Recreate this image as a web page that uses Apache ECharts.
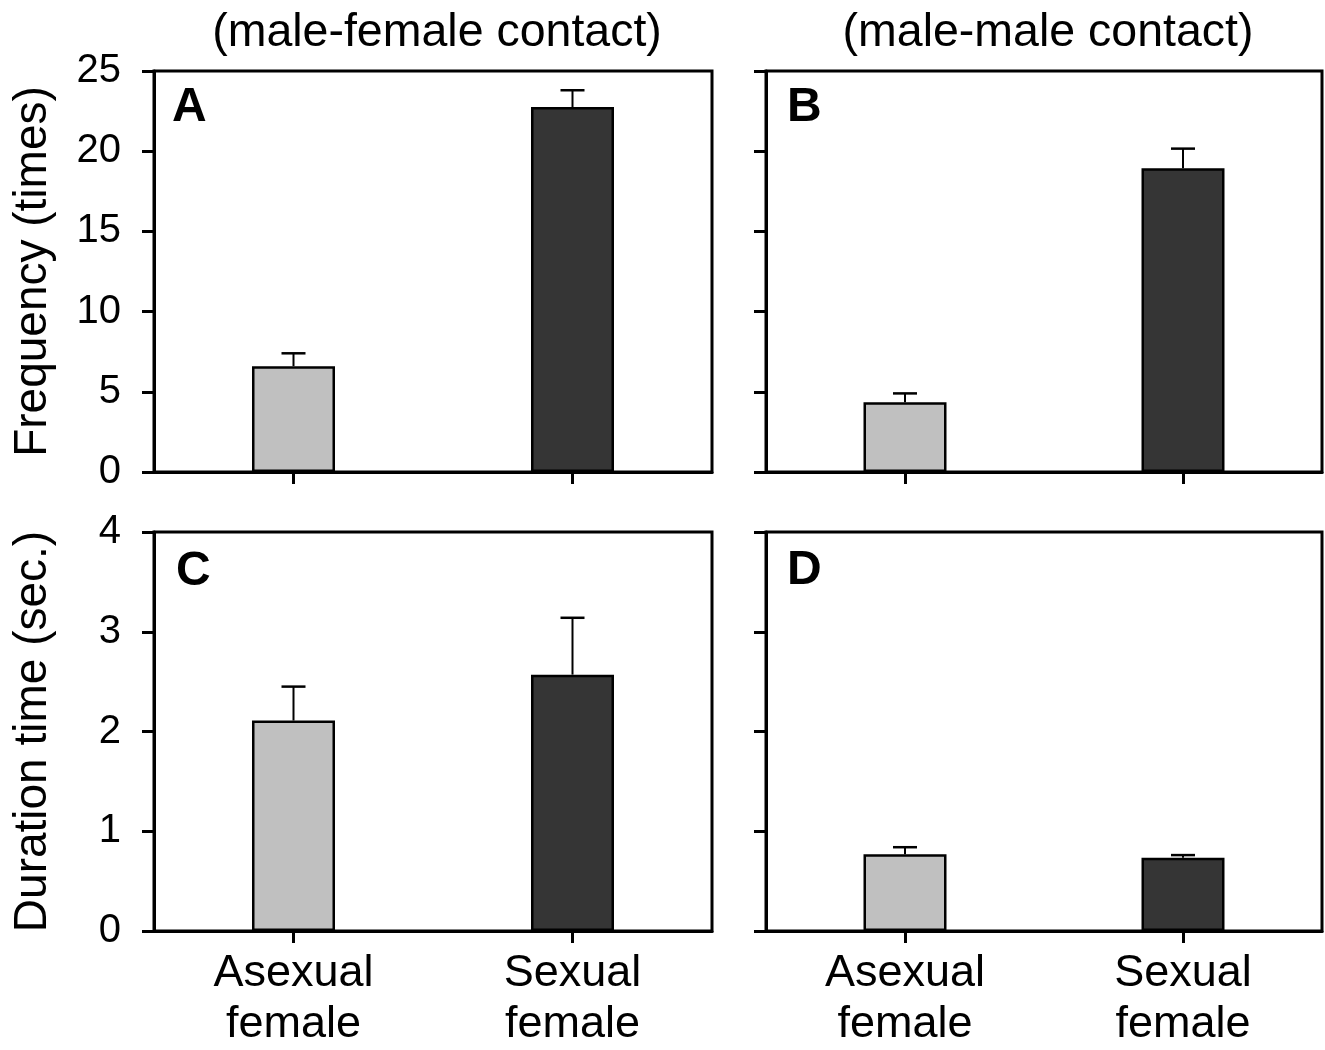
<!DOCTYPE html>
<html>
<head>
<meta charset="utf-8">
<script src="https://cdn.jsdelivr.net/npm/echarts@6/dist/echarts.min.js"></script>
<style>
  html, body { margin: 0; padding: 0; background: #fff; }
  #chart { width: 1325px; height: 1050px; }
</style>
</head>
<body>
<div id="chart"></div>
<script>
// ---- data ----
const categories = ['Asexual\nfemale', 'Sexual\nfemale'];
const columnTitles = ['(male-female contact)', '(male-male contact)'];
const panelLetters = ['A', 'B', 'C', 'D'];
const yNames = ['Frequency (times)', 'Duration time (sec.)'];

const freqMaleFemale = [6.6, 22.75];
const freqMaleFemaleErr = [0.8, 1.05];
const freqMaleMale = [4.35, 18.93];
const freqMaleMaleErr = [0.55, 1.23];
const durMaleFemale = [2.11, 2.57];
const durMaleFemaleErr = [0.34, 0.57];
const durMaleMale = [0.77, 0.735];
const durMaleMaleErr = [0.07, 0.026];

const barColors = ['#c0c0c0', '#353535'];
const freqMax = 25, freqInterval = 5;
const durMax = 4, durInterval = 1;

// ---- layout ----
const FONT = '"Liberation Sans", Arial, Helvetica, sans-serif';
const grids = [
  { left: 154, top: 71, width: 558, height: 401 },
  { left: 766, top: 71, width: 556, height: 401 },
  { left: 154, top: 532, width: 558, height: 401 },
  { left: 766, top: 532, width: 556, height: 401 }
];
const panels = [
  { means: freqMaleFemale, errs: freqMaleFemaleErr, max: freqMax, interval: freqInterval, ylabels: true, xlabels: false, yName: yNames[0] },
  { means: freqMaleMale, errs: freqMaleMaleErr, max: freqMax, interval: freqInterval, ylabels: false, xlabels: false, yName: '' },
  { means: durMaleFemale, errs: durMaleFemaleErr, max: durMax, interval: durInterval, ylabels: true, xlabels: true, yName: yNames[1] },
  { means: durMaleMale, errs: durMaleMaleErr, max: durMax, interval: durInterval, ylabels: false, xlabels: true, yName: '' }
];

function renderErr(params, api) {
  const x = api.value(0), m = api.value(1), e = api.value(2);
  const base = api.coord([x, m]);
  const top = api.coord([x, m + e]);
  return {
    type: 'group',
    children: [
      { type: 'line', shape: { x1: base[0], y1: base[1], x2: top[0], y2: top[1] }, style: { stroke: '#000', lineWidth: 2 } },
      { type: 'line', shape: { x1: top[0] - 12, y1: top[1], x2: top[0] + 12, y2: top[1] }, style: { stroke: '#000', lineWidth: 2.5 } }
    ]
  };
}

const option = {
  backgroundColor: '#fff',
  animation: false,
  grid: grids.map(g => Object.assign({ show: true, borderColor: '#000', borderWidth: 3, backgroundColor: 'transparent' }, g)),
  xAxis: panels.map((p, i) => ({
    type: 'category',
    gridIndex: i,
    data: categories,
    boundaryGap: true,
    axisLine: { show: true, lineStyle: { color: '#000', width: 3 } },
    axisTick: { show: true, alignWithLabel: true, length: 12, lineStyle: { color: '#000', width: 3 } },
    axisLabel: {
      show: p.xlabels, color: '#000', fontFamily: FONT, fontSize: 45, lineHeight: 51, margin: 17
    },
    splitLine: { show: false }
  })),
  yAxis: panels.map((p, i) => ({
    type: 'value',
    gridIndex: i,
    min: 0,
    max: p.max,
    interval: p.interval,
    name: p.yName,
    nameLocation: 'middle',
    nameGap: 121,
    nameRotate: 90,
    nameTextStyle: { color: '#000', fontFamily: FONT, fontSize: 46, verticalAlign: 'middle' },
    axisLine: { show: true, lineStyle: { color: '#000', width: 3 } },
    axisTick: { show: true, length: 12, lineStyle: { color: '#000', width: 3 } },
    axisLabel: { show: p.ylabels, color: '#000', fontFamily: FONT, fontSize: 40, margin: 33 },
    splitLine: { show: false }
  })),
  series: [].concat(...panels.map((p, i) => [
    {
      type: 'bar',
      xAxisIndex: i,
      yAxisIndex: i,
      barWidth: 83,
      data: p.means.map((v, k) => ({ value: v, itemStyle: { color: barColors[k] } })),
      itemStyle: { borderColor: '#000', borderWidth: 2.5 },
      emphasis: { disabled: true },
      z: 2
    },
    {
      type: 'custom',
      xAxisIndex: i,
      yAxisIndex: i,
      renderItem: renderErr,
      encode: { x: 0, y: 1 },
      data: p.means.map((v, k) => [k, v, p.errs[k]]),
      z: 3
    }
  ])),
  graphic: [
    { type: 'text', x: 437, y: 33, style: { text: columnTitles[0], font: '46.5px ' + FONT, fill: '#000', textAlign: 'center', textVerticalAlign: 'middle' } },
    { type: 'text', x: 1048, y: 33, style: { text: columnTitles[1], font: '46.5px ' + FONT, fill: '#000', textAlign: 'center', textVerticalAlign: 'middle' } },
    { type: 'text', x: 172, y: 108, style: { text: panelLetters[0], font: 'bold 48px ' + FONT, fill: '#000', textAlign: 'left', textVerticalAlign: 'middle' } },
    { type: 'text', x: 787, y: 108, style: { text: panelLetters[1], font: 'bold 48px ' + FONT, fill: '#000', textAlign: 'left', textVerticalAlign: 'middle' } },
    { type: 'text', x: 176, y: 572, style: { text: panelLetters[2], font: 'bold 48px ' + FONT, fill: '#000', textAlign: 'left', textVerticalAlign: 'middle' } },
    { type: 'text', x: 787, y: 571, style: { text: panelLetters[3], font: 'bold 48px ' + FONT, fill: '#000', textAlign: 'left', textVerticalAlign: 'middle' } }
  ]
};

const chart = echarts.init(document.getElementById('chart'), null, { renderer: 'canvas' });
chart.setOption(option);
</script>
</body>
</html>
